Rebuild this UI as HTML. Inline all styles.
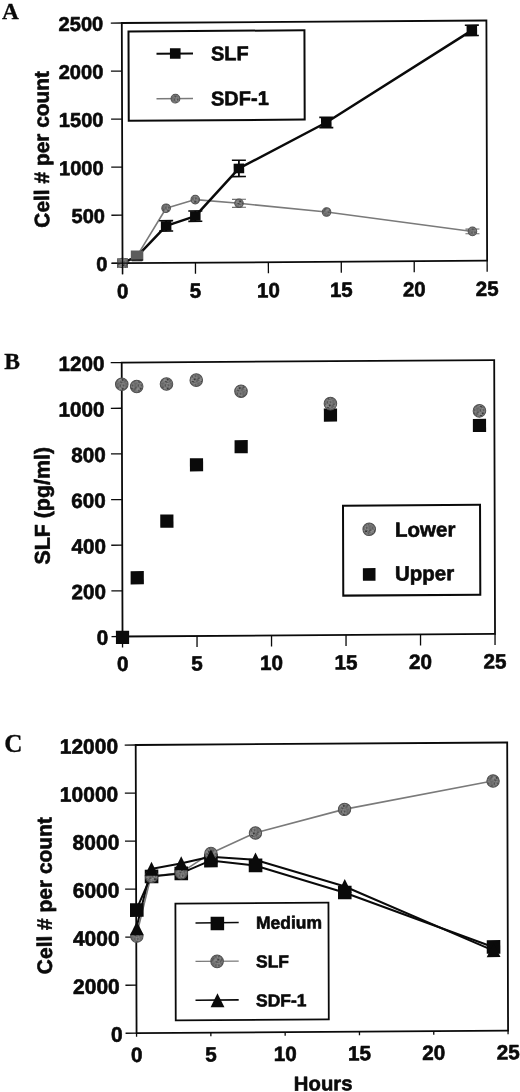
<!DOCTYPE html>
<html lang="en"><head><meta charset="utf-8"><title>Figure</title>
<style>html,body{margin:0;padding:0;background:#fff}body{width:520px;height:1092px;overflow:hidden}svg{display:block;filter:blur(0.4px)}</style>
</head><body>
<svg width="520" height="1092" viewBox="0 0 520 1092">
<rect width="520" height="1092" fill="#ffffff"/>
<defs><pattern id="ht" width="9" height="9" patternUnits="userSpaceOnUse"><rect width="9" height="9" fill="#707070"/><rect x="0" y="0" width="1.05" height="1.05" fill="#696969"/><rect x="1" y="0" width="1.05" height="1.05" fill="#838383"/><rect x="2" y="0" width="1.05" height="1.05" fill="#6a6a6a"/><rect x="3" y="0" width="1.05" height="1.05" fill="#676767"/><rect x="4" y="0" width="1.05" height="1.05" fill="#525252"/><rect x="5" y="0" width="1.05" height="1.05" fill="#6a6a6a"/><rect x="6" y="0" width="1.05" height="1.05" fill="#979797"/><rect x="7" y="0" width="1.05" height="1.05" fill="#808080"/><rect x="8" y="0" width="1.05" height="1.05" fill="#959595"/><rect x="0" y="1" width="1.05" height="1.05" fill="#7a7a7a"/><rect x="1" y="1" width="1.05" height="1.05" fill="#7f7f7f"/><rect x="2" y="1" width="1.05" height="1.05" fill="#787878"/><rect x="3" y="1" width="1.05" height="1.05" fill="#393939"/><rect x="4" y="1" width="1.05" height="1.05" fill="#8f8f8f"/><rect x="5" y="1" width="1.05" height="1.05" fill="#838383"/><rect x="6" y="1" width="1.05" height="1.05" fill="#828282"/><rect x="7" y="1" width="1.05" height="1.05" fill="#383838"/><rect x="8" y="1" width="1.05" height="1.05" fill="#363636"/><rect x="0" y="2" width="1.05" height="1.05" fill="#535353"/><rect x="1" y="2" width="1.05" height="1.05" fill="#626262"/><rect x="2" y="2" width="1.05" height="1.05" fill="#7c7c7c"/><rect x="3" y="2" width="1.05" height="1.05" fill="#707070"/><rect x="4" y="2" width="1.05" height="1.05" fill="#838383"/><rect x="5" y="2" width="1.05" height="1.05" fill="#5c5c5c"/><rect x="6" y="2" width="1.05" height="1.05" fill="#7c7c7c"/><rect x="7" y="2" width="1.05" height="1.05" fill="#7f7f7f"/><rect x="8" y="2" width="1.05" height="1.05" fill="#5b5b5b"/><rect x="0" y="3" width="1.05" height="1.05" fill="#acacac"/><rect x="1" y="3" width="1.05" height="1.05" fill="#848484"/><rect x="2" y="3" width="1.05" height="1.05" fill="#9a9a9a"/><rect x="3" y="3" width="1.05" height="1.05" fill="#5c5c5c"/><rect x="4" y="3" width="1.05" height="1.05" fill="#585858"/><rect x="5" y="3" width="1.05" height="1.05" fill="#666666"/><rect x="6" y="3" width="1.05" height="1.05" fill="#6e6e6e"/><rect x="7" y="3" width="1.05" height="1.05" fill="#878787"/><rect x="8" y="3" width="1.05" height="1.05" fill="#7a7a7a"/><rect x="0" y="4" width="1.05" height="1.05" fill="#626262"/><rect x="1" y="4" width="1.05" height="1.05" fill="#515151"/><rect x="2" y="4" width="1.05" height="1.05" fill="#606060"/><rect x="3" y="4" width="1.05" height="1.05" fill="#9b9b9b"/><rect x="4" y="4" width="1.05" height="1.05" fill="#565656"/><rect x="5" y="4" width="1.05" height="1.05" fill="#7a7a7a"/><rect x="6" y="4" width="1.05" height="1.05" fill="#808080"/><rect x="7" y="4" width="1.05" height="1.05" fill="#3f3f3f"/><rect x="8" y="4" width="1.05" height="1.05" fill="#737373"/><rect x="0" y="5" width="1.05" height="1.05" fill="#9e9e9e"/><rect x="1" y="5" width="1.05" height="1.05" fill="#2d2d2d"/><rect x="2" y="5" width="1.05" height="1.05" fill="#676767"/><rect x="3" y="5" width="1.05" height="1.05" fill="#6e6e6e"/><rect x="4" y="5" width="1.05" height="1.05" fill="#565656"/><rect x="5" y="5" width="1.05" height="1.05" fill="#828282"/><rect x="6" y="5" width="1.05" height="1.05" fill="#6f6f6f"/><rect x="7" y="5" width="1.05" height="1.05" fill="#404040"/><rect x="8" y="5" width="1.05" height="1.05" fill="#8e8e8e"/><rect x="0" y="6" width="1.05" height="1.05" fill="#888888"/><rect x="1" y="6" width="1.05" height="1.05" fill="#929292"/><rect x="2" y="6" width="1.05" height="1.05" fill="#a2a2a2"/><rect x="3" y="6" width="1.05" height="1.05" fill="#7e7e7e"/><rect x="4" y="6" width="1.05" height="1.05" fill="#767676"/><rect x="5" y="6" width="1.05" height="1.05" fill="#454545"/><rect x="6" y="6" width="1.05" height="1.05" fill="#868686"/><rect x="7" y="6" width="1.05" height="1.05" fill="#5d5d5d"/><rect x="8" y="6" width="1.05" height="1.05" fill="#626262"/><rect x="0" y="7" width="1.05" height="1.05" fill="#464646"/><rect x="1" y="7" width="1.05" height="1.05" fill="#515151"/><rect x="2" y="7" width="1.05" height="1.05" fill="#5f5f5f"/><rect x="3" y="7" width="1.05" height="1.05" fill="#9d9d9d"/><rect x="4" y="7" width="1.05" height="1.05" fill="#2d2d2d"/><rect x="5" y="7" width="1.05" height="1.05" fill="#404040"/><rect x="6" y="7" width="1.05" height="1.05" fill="#7a7a7a"/><rect x="7" y="7" width="1.05" height="1.05" fill="#a3a3a3"/><rect x="8" y="7" width="1.05" height="1.05" fill="#858585"/><rect x="0" y="8" width="1.05" height="1.05" fill="#313131"/><rect x="1" y="8" width="1.05" height="1.05" fill="#2d2d2d"/><rect x="2" y="8" width="1.05" height="1.05" fill="#7e7e7e"/><rect x="3" y="8" width="1.05" height="1.05" fill="#585858"/><rect x="4" y="8" width="1.05" height="1.05" fill="#4b4b4b"/><rect x="5" y="8" width="1.05" height="1.05" fill="#939393"/><rect x="6" y="8" width="1.05" height="1.05" fill="#979797"/><rect x="7" y="8" width="1.05" height="1.05" fill="#777777"/><rect x="8" y="8" width="1.05" height="1.05" fill="#7a7a7a"/></pattern></defs>
<text x="2.00" y="19.30" font-family='"Liberation Serif", serif' font-size="23.3" font-weight="bold" text-anchor="start" fill="#0a0a0a" stroke="#0a0a0a" stroke-width="0.3" >A</text>
<text x="4.20" y="368.80" font-family='"Liberation Serif", serif' font-size="23.6" font-weight="bold" text-anchor="start" fill="#0a0a0a" stroke="#0a0a0a" stroke-width="0.3" >B</text>
<text x="4.30" y="752.40" font-family='"Liberation Serif", serif' font-size="25.2" font-weight="bold" text-anchor="start" fill="#0a0a0a" stroke="#0a0a0a" stroke-width="0.3" >C</text>
<g transform="matrix(1 -0.0068 0.003 1 121.8 23.0)">
<rect x="0.00" y="0.00" width="364.60" height="240.20" fill="none" stroke="#0a0a0a" stroke-width="1.8"/>
<line x1="-11.00" y1="240.20" x2="0.00" y2="240.20" stroke="#0a0a0a" stroke-width="1.3" />
<text x="-15.00" y="247.80" font-family='"Liberation Sans", sans-serif' font-size="20.1" font-weight="bold" text-anchor="end" fill="#0a0a0a" stroke="#0a0a0a" stroke-width="0.6" stroke-linejoin="round" >0</text>
<line x1="-11.00" y1="192.16" x2="0.00" y2="192.16" stroke="#0a0a0a" stroke-width="1.3" />
<text x="-17.40" y="199.76" font-family='"Liberation Sans", sans-serif' font-size="20.1" font-weight="bold" text-anchor="end" fill="#0a0a0a" stroke="#0a0a0a" stroke-width="0.6" stroke-linejoin="round" >500</text>
<line x1="-11.00" y1="144.12" x2="0.00" y2="144.12" stroke="#0a0a0a" stroke-width="1.3" />
<text x="-18.60" y="151.72" font-family='"Liberation Sans", sans-serif' font-size="20.1" font-weight="bold" text-anchor="end" fill="#0a0a0a" stroke="#0a0a0a" stroke-width="0.6" stroke-linejoin="round" >1000</text>
<line x1="-11.00" y1="96.08" x2="0.00" y2="96.08" stroke="#0a0a0a" stroke-width="1.3" />
<text x="-18.60" y="103.68" font-family='"Liberation Sans", sans-serif' font-size="20.1" font-weight="bold" text-anchor="end" fill="#0a0a0a" stroke="#0a0a0a" stroke-width="0.6" stroke-linejoin="round" >1500</text>
<line x1="-11.00" y1="48.04" x2="0.00" y2="48.04" stroke="#0a0a0a" stroke-width="1.3" />
<text x="-18.60" y="55.64" font-family='"Liberation Sans", sans-serif' font-size="20.1" font-weight="bold" text-anchor="end" fill="#0a0a0a" stroke="#0a0a0a" stroke-width="0.6" stroke-linejoin="round" >2000</text>
<line x1="-11.00" y1="0.00" x2="0.00" y2="0.00" stroke="#0a0a0a" stroke-width="1.3" />
<text x="-18.60" y="7.60" font-family='"Liberation Sans", sans-serif' font-size="20.1" font-weight="bold" text-anchor="end" fill="#0a0a0a" stroke="#0a0a0a" stroke-width="0.6" stroke-linejoin="round" >2500</text>
<line x1="0.00" y1="240.20" x2="0.00" y2="251.20" stroke="#0a0a0a" stroke-width="1.3" />
<text x="0.00" y="275.30" font-family='"Liberation Sans", sans-serif' font-size="20.5" font-weight="bold" text-anchor="middle" fill="#0a0a0a" stroke="#0a0a0a" stroke-width="0.6" stroke-linejoin="round" >0</text>
<line x1="72.92" y1="240.20" x2="72.92" y2="251.20" stroke="#0a0a0a" stroke-width="1.3" />
<text x="72.92" y="275.30" font-family='"Liberation Sans", sans-serif' font-size="20.5" font-weight="bold" text-anchor="middle" fill="#0a0a0a" stroke="#0a0a0a" stroke-width="0.6" stroke-linejoin="round" >5</text>
<line x1="145.84" y1="240.20" x2="145.84" y2="251.20" stroke="#0a0a0a" stroke-width="1.3" />
<text x="145.84" y="275.30" font-family='"Liberation Sans", sans-serif' font-size="20.5" font-weight="bold" text-anchor="middle" fill="#0a0a0a" stroke="#0a0a0a" stroke-width="0.6" stroke-linejoin="round" >10</text>
<line x1="218.76" y1="240.20" x2="218.76" y2="251.20" stroke="#0a0a0a" stroke-width="1.3" />
<text x="218.76" y="275.30" font-family='"Liberation Sans", sans-serif' font-size="20.5" font-weight="bold" text-anchor="middle" fill="#0a0a0a" stroke="#0a0a0a" stroke-width="0.6" stroke-linejoin="round" >15</text>
<line x1="291.68" y1="240.20" x2="291.68" y2="251.20" stroke="#0a0a0a" stroke-width="1.3" />
<text x="291.68" y="275.30" font-family='"Liberation Sans", sans-serif' font-size="20.5" font-weight="bold" text-anchor="middle" fill="#0a0a0a" stroke="#0a0a0a" stroke-width="0.6" stroke-linejoin="round" >20</text>
<line x1="364.60" y1="240.20" x2="364.60" y2="251.20" stroke="#0a0a0a" stroke-width="1.3" />
<text x="364.60" y="275.30" font-family='"Liberation Sans", sans-serif' font-size="20.5" font-weight="bold" text-anchor="middle" fill="#0a0a0a" stroke="#0a0a0a" stroke-width="0.6" stroke-linejoin="round" >25</text>
<text transform="translate(-73.28 125.80) rotate(-90)" font-family='"Liberation Sans", sans-serif' font-size="20.9" font-weight="bold" text-anchor="middle" fill="#0a0a0a" stroke="#0a0a0a" stroke-width="0.6" stroke-linejoin="round">Cell # per count</text>
<rect x="6.67" y="8.55" width="175.94" height="89.30" fill="#fff" stroke="#0a0a0a" stroke-width="2"/>
<polyline points="0.00,240.20 14.58,232.99 43.75,185.53 72.92,177.08 116.67,181.11 204.18,190.43 350.02,210.80" fill="none" stroke="#7a7a7a" stroke-width="1.6" stroke-linejoin="round"/>
<polyline points="0.00,240.20 14.58,233.47 43.75,203.21 72.92,193.60 116.67,146.23 204.18,100.88 350.02,9.80" fill="none" stroke="#0a0a0a" stroke-width="2.5" stroke-linejoin="round"/>
<rect x="-5.25" y="235.40" width="10.50" height="9.60" fill="#0a0a0a"/>
<rect x="9.33" y="228.67" width="10.50" height="9.60" fill="#0a0a0a"/>
<line x1="43.75" y1="198.01" x2="43.75" y2="208.41" stroke="#0a0a0a" stroke-width="1.8" />
<line x1="36.75" y1="198.01" x2="50.75" y2="198.01" stroke="#0a0a0a" stroke-width="1.6" />
<line x1="36.75" y1="208.41" x2="50.75" y2="208.41" stroke="#0a0a0a" stroke-width="1.6" />
<rect x="38.50" y="198.41" width="10.50" height="9.60" fill="#0a0a0a"/>
<line x1="72.92" y1="188.40" x2="72.92" y2="198.80" stroke="#0a0a0a" stroke-width="1.8" />
<line x1="65.92" y1="188.40" x2="79.92" y2="188.40" stroke="#0a0a0a" stroke-width="1.6" />
<line x1="65.92" y1="198.80" x2="79.92" y2="198.80" stroke="#0a0a0a" stroke-width="1.6" />
<rect x="67.67" y="188.80" width="10.50" height="9.60" fill="#0a0a0a"/>
<line x1="116.67" y1="138.07" x2="116.67" y2="154.40" stroke="#0a0a0a" stroke-width="1.8" />
<line x1="109.67" y1="138.07" x2="123.67" y2="138.07" stroke="#0a0a0a" stroke-width="1.6" />
<line x1="109.67" y1="154.40" x2="123.67" y2="154.40" stroke="#0a0a0a" stroke-width="1.6" />
<rect x="111.42" y="141.43" width="10.50" height="9.60" fill="#0a0a0a"/>
<line x1="204.18" y1="95.68" x2="204.18" y2="106.08" stroke="#0a0a0a" stroke-width="1.8" />
<line x1="197.18" y1="95.68" x2="211.18" y2="95.68" stroke="#0a0a0a" stroke-width="1.6" />
<line x1="197.18" y1="106.08" x2="211.18" y2="106.08" stroke="#0a0a0a" stroke-width="1.6" />
<rect x="198.93" y="96.08" width="10.50" height="9.60" fill="#0a0a0a"/>
<line x1="350.02" y1="4.60" x2="350.02" y2="15.00" stroke="#0a0a0a" stroke-width="1.8" />
<line x1="343.02" y1="4.60" x2="357.02" y2="4.60" stroke="#0a0a0a" stroke-width="1.6" />
<line x1="343.02" y1="15.00" x2="357.02" y2="15.00" stroke="#0a0a0a" stroke-width="1.6" />
<rect x="344.77" y="5.00" width="10.50" height="9.60" fill="#0a0a0a"/>
<circle cx="0.00" cy="240.20" r="4.30" fill="url(#ht)" stroke="#505050" stroke-width="1.0"/>
<circle cx="14.58" cy="232.99" r="4.30" fill="url(#ht)" stroke="#505050" stroke-width="1.0"/>
<circle cx="43.75" cy="185.53" r="4.30" fill="url(#ht)" stroke="#505050" stroke-width="1.0"/>
<circle cx="72.92" cy="177.08" r="4.30" fill="url(#ht)" stroke="#505050" stroke-width="1.0"/>
<line x1="116.67" y1="177.08" x2="116.67" y2="185.15" stroke="#6c6c6c" stroke-width="1.2" />
<line x1="109.67" y1="177.08" x2="123.67" y2="177.08" stroke="#6c6c6c" stroke-width="1.1" />
<line x1="109.67" y1="185.15" x2="123.67" y2="185.15" stroke="#6c6c6c" stroke-width="1.1" />
<circle cx="116.67" cy="181.11" r="4.30" fill="url(#ht)" stroke="#505050" stroke-width="1.0"/>
<circle cx="204.18" cy="190.43" r="4.30" fill="url(#ht)" stroke="#505050" stroke-width="1.0"/>
<line x1="350.02" y1="208.49" x2="350.02" y2="213.11" stroke="#6c6c6c" stroke-width="1.2" />
<line x1="343.02" y1="208.49" x2="357.02" y2="208.49" stroke="#6c6c6c" stroke-width="1.1" />
<line x1="343.02" y1="213.11" x2="357.02" y2="213.11" stroke="#6c6c6c" stroke-width="1.1" />
<circle cx="350.02" cy="210.80" r="4.30" fill="url(#ht)" stroke="#505050" stroke-width="1.0"/>
<rect x="-5.25" y="235.40" width="10.50" height="9.60" fill="url(#ht)"/>
<line x1="0.00" y1="234.20" x2="0.00" y2="251.20" stroke="#0a0a0a" stroke-width="1.3" />
<line x1="-11.00" y1="240.20" x2="7.00" y2="240.20" stroke="#0a0a0a" stroke-width="1.2" />
<rect x="8.33" y="227.61" width="12.50" height="10.00" fill="#5c5c5c"/>
<line x1="8.58" y1="237.21" x2="20.58" y2="237.21" stroke="#222" stroke-width="1.4" />
<line x1="34.61" y1="31.04" x2="71.11" y2="31.04" stroke="#0a0a0a" stroke-width="1.9" />
<rect x="48.06" y="25.64" width="10.60" height="10.40" fill="#0a0a0a"/>
<text x="89.09" y="38.01" font-family='"Liberation Sans", sans-serif' font-size="20" font-weight="bold" text-anchor="start" fill="#0a0a0a" stroke="#0a0a0a" stroke-width="0.6" stroke-linejoin="round" >SLF</text>
<line x1="34.47" y1="76.04" x2="70.97" y2="76.04" stroke="#7a7a7a" stroke-width="1.4" />
<circle cx="53.42" cy="76.04" r="4.40" fill="url(#ht)" stroke="#505050" stroke-width="1.0"/>
<text x="88.95" y="83.01" font-family='"Liberation Sans", sans-serif' font-size="20" font-weight="bold" text-anchor="start" fill="#0a0a0a" stroke="#0a0a0a" stroke-width="0.6" stroke-linejoin="round" >SDF-1</text>
</g>
<g transform="matrix(1 -0.0068 0.003 1 121.7 362.6)">
<rect x="0.00" y="0.00" width="372.50" height="273.90" fill="none" stroke="#0a0a0a" stroke-width="1.8"/>
<line x1="-11.00" y1="273.90" x2="0.00" y2="273.90" stroke="#0a0a0a" stroke-width="1.3" />
<text x="-14.30" y="281.91" font-family='"Liberation Sans", sans-serif' font-size="20.7" font-weight="bold" text-anchor="end" fill="#0a0a0a" stroke="#0a0a0a" stroke-width="0.6" stroke-linejoin="round" >0</text>
<line x1="-11.00" y1="228.25" x2="0.00" y2="228.25" stroke="#0a0a0a" stroke-width="1.3" />
<text x="-16.30" y="236.26" font-family='"Liberation Sans", sans-serif' font-size="20.7" font-weight="bold" text-anchor="end" fill="#0a0a0a" stroke="#0a0a0a" stroke-width="0.6" stroke-linejoin="round" >200</text>
<line x1="-11.00" y1="182.60" x2="0.00" y2="182.60" stroke="#0a0a0a" stroke-width="1.3" />
<text x="-16.30" y="190.61" font-family='"Liberation Sans", sans-serif' font-size="20.7" font-weight="bold" text-anchor="end" fill="#0a0a0a" stroke="#0a0a0a" stroke-width="0.6" stroke-linejoin="round" >400</text>
<line x1="-11.00" y1="136.95" x2="0.00" y2="136.95" stroke="#0a0a0a" stroke-width="1.3" />
<text x="-16.30" y="144.96" font-family='"Liberation Sans", sans-serif' font-size="20.7" font-weight="bold" text-anchor="end" fill="#0a0a0a" stroke="#0a0a0a" stroke-width="0.6" stroke-linejoin="round" >600</text>
<line x1="-11.00" y1="91.30" x2="0.00" y2="91.30" stroke="#0a0a0a" stroke-width="1.3" />
<text x="-16.30" y="99.31" font-family='"Liberation Sans", sans-serif' font-size="20.7" font-weight="bold" text-anchor="end" fill="#0a0a0a" stroke="#0a0a0a" stroke-width="0.6" stroke-linejoin="round" >800</text>
<line x1="-11.00" y1="45.65" x2="0.00" y2="45.65" stroke="#0a0a0a" stroke-width="1.3" />
<text x="-17.30" y="53.66" font-family='"Liberation Sans", sans-serif' font-size="20.7" font-weight="bold" text-anchor="end" fill="#0a0a0a" stroke="#0a0a0a" stroke-width="0.6" stroke-linejoin="round" >1000</text>
<line x1="-11.00" y1="0.00" x2="0.00" y2="0.00" stroke="#0a0a0a" stroke-width="1.3" />
<text x="-17.30" y="8.01" font-family='"Liberation Sans", sans-serif' font-size="20.7" font-weight="bold" text-anchor="end" fill="#0a0a0a" stroke="#0a0a0a" stroke-width="0.6" stroke-linejoin="round" >1200</text>
<line x1="0.00" y1="273.90" x2="0.00" y2="284.90" stroke="#0a0a0a" stroke-width="1.3" />
<text x="0.00" y="308.40" font-family='"Liberation Sans", sans-serif' font-size="20.7" font-weight="bold" text-anchor="middle" fill="#0a0a0a" stroke="#0a0a0a" stroke-width="0.6" stroke-linejoin="round" >0</text>
<line x1="74.50" y1="273.90" x2="74.50" y2="284.90" stroke="#0a0a0a" stroke-width="1.3" />
<text x="74.50" y="308.40" font-family='"Liberation Sans", sans-serif' font-size="20.7" font-weight="bold" text-anchor="middle" fill="#0a0a0a" stroke="#0a0a0a" stroke-width="0.6" stroke-linejoin="round" >5</text>
<line x1="149.00" y1="273.90" x2="149.00" y2="284.90" stroke="#0a0a0a" stroke-width="1.3" />
<text x="149.00" y="308.40" font-family='"Liberation Sans", sans-serif' font-size="20.7" font-weight="bold" text-anchor="middle" fill="#0a0a0a" stroke="#0a0a0a" stroke-width="0.6" stroke-linejoin="round" >10</text>
<line x1="223.50" y1="273.90" x2="223.50" y2="284.90" stroke="#0a0a0a" stroke-width="1.3" />
<text x="223.50" y="308.40" font-family='"Liberation Sans", sans-serif' font-size="20.7" font-weight="bold" text-anchor="middle" fill="#0a0a0a" stroke="#0a0a0a" stroke-width="0.6" stroke-linejoin="round" >15</text>
<line x1="298.00" y1="273.90" x2="298.00" y2="284.90" stroke="#0a0a0a" stroke-width="1.3" />
<text x="298.00" y="308.40" font-family='"Liberation Sans", sans-serif' font-size="20.7" font-weight="bold" text-anchor="middle" fill="#0a0a0a" stroke="#0a0a0a" stroke-width="0.6" stroke-linejoin="round" >20</text>
<line x1="372.50" y1="273.90" x2="372.50" y2="284.90" stroke="#0a0a0a" stroke-width="1.3" />
<text x="372.50" y="308.40" font-family='"Liberation Sans", sans-serif' font-size="20.7" font-weight="bold" text-anchor="middle" fill="#0a0a0a" stroke="#0a0a0a" stroke-width="0.6" stroke-linejoin="round" >25</text>
<text transform="translate(-72.53 142.71) rotate(-90)" font-family='"Liberation Sans", sans-serif' font-size="21.4" font-weight="bold" text-anchor="middle" fill="#0a0a0a" stroke="#0a0a0a" stroke-width="0.6" stroke-linejoin="round">SLF (pg/ml)</text>
<rect x="-6.60" y="268.21" width="13.20" height="13.20" fill="#0a0a0a"/>
<rect x="8.30" y="208.64" width="13.20" height="13.20" fill="#0a0a0a"/>
<rect x="38.10" y="152.26" width="13.20" height="13.20" fill="#0a0a0a"/>
<rect x="67.90" y="96.11" width="13.20" height="13.20" fill="#0a0a0a"/>
<rect x="112.60" y="78.31" width="13.20" height="13.20" fill="#0a0a0a"/>
<rect x="202.00" y="47.27" width="13.20" height="13.20" fill="#0a0a0a"/>
<rect x="351.00" y="58.68" width="13.20" height="13.20" fill="#0a0a0a"/>
<circle cx="0.00" cy="21.68" r="6.30" fill="url(#ht)" stroke="#505050" stroke-width="1.0"/>
<circle cx="14.90" cy="23.97" r="6.30" fill="url(#ht)" stroke="#505050" stroke-width="1.0"/>
<circle cx="44.70" cy="21.68" r="6.30" fill="url(#ht)" stroke="#505050" stroke-width="1.0"/>
<circle cx="74.50" cy="18.03" r="6.30" fill="url(#ht)" stroke="#505050" stroke-width="1.0"/>
<circle cx="119.20" cy="29.44" r="6.30" fill="url(#ht)" stroke="#505050" stroke-width="1.0"/>
<circle cx="208.60" cy="42.45" r="6.30" fill="url(#ht)" stroke="#505050" stroke-width="1.0"/>
<circle cx="357.60" cy="50.67" r="6.30" fill="url(#ht)" stroke="#505050" stroke-width="1.0"/>
<rect x="220.87" y="144.70" width="137.03" height="89.83" fill="#fff" stroke="#0a0a0a" stroke-width="2"/>
<circle cx="247.00" cy="168.38" r="6.30" fill="url(#ht)" stroke="#505050" stroke-width="1.0"/>
<rect x="240.56" y="207.18" width="12.60" height="12.60" fill="#0a0a0a"/>
<text x="272.78" y="176.06" font-family='"Liberation Sans", sans-serif' font-size="20.5" font-weight="bold" text-anchor="start" fill="#0a0a0a" stroke="#0a0a0a" stroke-width="0.6" stroke-linejoin="round" >Lower</text>
<text x="272.65" y="219.86" font-family='"Liberation Sans", sans-serif' font-size="20.5" font-weight="bold" text-anchor="start" fill="#0a0a0a" stroke="#0a0a0a" stroke-width="0.6" stroke-linejoin="round" >Upper</text>
</g>
<g transform="matrix(1 -0.0068 0.003 1 135.7 745.0)">
<rect x="0.00" y="0.00" width="371.50" height="288.20" fill="none" stroke="#0a0a0a" stroke-width="1.8"/>
<line x1="-11.00" y1="288.20" x2="0.00" y2="288.20" stroke="#0a0a0a" stroke-width="1.3" />
<text x="-14.00" y="296.52" font-family='"Liberation Sans", sans-serif' font-size="21" font-weight="bold" text-anchor="end" fill="#0a0a0a" stroke="#0a0a0a" stroke-width="0.6" stroke-linejoin="round" >0</text>
<line x1="-11.00" y1="240.17" x2="0.00" y2="240.17" stroke="#0a0a0a" stroke-width="1.3" />
<text x="-16.70" y="248.48" font-family='"Liberation Sans", sans-serif' font-size="21" font-weight="bold" text-anchor="end" fill="#0a0a0a" stroke="#0a0a0a" stroke-width="0.6" stroke-linejoin="round" >2000</text>
<line x1="-11.00" y1="192.13" x2="0.00" y2="192.13" stroke="#0a0a0a" stroke-width="1.3" />
<text x="-16.70" y="200.45" font-family='"Liberation Sans", sans-serif' font-size="21" font-weight="bold" text-anchor="end" fill="#0a0a0a" stroke="#0a0a0a" stroke-width="0.6" stroke-linejoin="round" >4000</text>
<line x1="-11.00" y1="144.10" x2="0.00" y2="144.10" stroke="#0a0a0a" stroke-width="1.3" />
<text x="-16.70" y="152.42" font-family='"Liberation Sans", sans-serif' font-size="21" font-weight="bold" text-anchor="end" fill="#0a0a0a" stroke="#0a0a0a" stroke-width="0.6" stroke-linejoin="round" >6000</text>
<line x1="-11.00" y1="96.07" x2="0.00" y2="96.07" stroke="#0a0a0a" stroke-width="1.3" />
<text x="-16.70" y="104.38" font-family='"Liberation Sans", sans-serif' font-size="21" font-weight="bold" text-anchor="end" fill="#0a0a0a" stroke="#0a0a0a" stroke-width="0.6" stroke-linejoin="round" >8000</text>
<line x1="-11.00" y1="48.03" x2="0.00" y2="48.03" stroke="#0a0a0a" stroke-width="1.3" />
<text x="-17.60" y="56.35" font-family='"Liberation Sans", sans-serif' font-size="21" font-weight="bold" text-anchor="end" fill="#0a0a0a" stroke="#0a0a0a" stroke-width="0.6" stroke-linejoin="round" >10000</text>
<line x1="-11.00" y1="0.00" x2="0.00" y2="0.00" stroke="#0a0a0a" stroke-width="1.3" />
<text x="-17.60" y="8.32" font-family='"Liberation Sans", sans-serif' font-size="21" font-weight="bold" text-anchor="end" fill="#0a0a0a" stroke="#0a0a0a" stroke-width="0.6" stroke-linejoin="round" >12000</text>
<line x1="0.00" y1="288.20" x2="0.00" y2="291.70" stroke="#0a0a0a" stroke-width="1.3" />
<text x="0.00" y="316.90" font-family='"Liberation Sans", sans-serif' font-size="20.7" font-weight="bold" text-anchor="middle" fill="#0a0a0a" stroke="#0a0a0a" stroke-width="0.6" stroke-linejoin="round" >0</text>
<line x1="74.30" y1="288.20" x2="74.30" y2="291.70" stroke="#0a0a0a" stroke-width="1.3" />
<text x="74.30" y="316.90" font-family='"Liberation Sans", sans-serif' font-size="20.7" font-weight="bold" text-anchor="middle" fill="#0a0a0a" stroke="#0a0a0a" stroke-width="0.6" stroke-linejoin="round" >5</text>
<line x1="148.60" y1="288.20" x2="148.60" y2="291.70" stroke="#0a0a0a" stroke-width="1.3" />
<text x="148.60" y="316.90" font-family='"Liberation Sans", sans-serif' font-size="20.7" font-weight="bold" text-anchor="middle" fill="#0a0a0a" stroke="#0a0a0a" stroke-width="0.6" stroke-linejoin="round" >10</text>
<line x1="222.90" y1="288.20" x2="222.90" y2="291.70" stroke="#0a0a0a" stroke-width="1.3" />
<text x="222.90" y="316.90" font-family='"Liberation Sans", sans-serif' font-size="20.7" font-weight="bold" text-anchor="middle" fill="#0a0a0a" stroke="#0a0a0a" stroke-width="0.6" stroke-linejoin="round" >15</text>
<line x1="297.20" y1="288.20" x2="297.20" y2="291.70" stroke="#0a0a0a" stroke-width="1.3" />
<text x="297.20" y="316.90" font-family='"Liberation Sans", sans-serif' font-size="20.7" font-weight="bold" text-anchor="middle" fill="#0a0a0a" stroke="#0a0a0a" stroke-width="0.6" stroke-linejoin="round" >20</text>
<line x1="371.50" y1="288.20" x2="371.50" y2="291.70" stroke="#0a0a0a" stroke-width="1.3" />
<text x="371.50" y="316.90" font-family='"Liberation Sans", sans-serif' font-size="20.7" font-weight="bold" text-anchor="middle" fill="#0a0a0a" stroke="#0a0a0a" stroke-width="0.6" stroke-linejoin="round" >25</text>
<text transform="translate(-84.45 150.03) rotate(-90)" font-family='"Liberation Sans", sans-serif' font-size="20.95" font-weight="bold" text-anchor="middle" fill="#0a0a0a" stroke="#0a0a0a" stroke-width="0.6" stroke-linejoin="round">Cell # per count</text>
<text x="186.46" y="346.77" font-family='"Liberation Sans", sans-serif' font-size="20.3" font-weight="bold" text-anchor="middle" fill="#0a0a0a" stroke="#0a0a0a" stroke-width="0.6" stroke-linejoin="round" >Hours</text>
<polyline points="0.00,191.17 14.86,131.49 44.58,128.13 74.30,108.92 118.88,88.86 208.04,65.81 356.64,38.43" fill="none" stroke="#7a7a7a" stroke-width="1.6" stroke-linejoin="round"/>
<polyline points="0.00,165.11 14.86,131.49 44.58,128.73 74.30,116.12 118.88,121.28 208.04,148.90 356.64,204.38" fill="none" stroke="#0a0a0a" stroke-width="2.0" stroke-linejoin="round"/>
<polyline points="0.00,183.49 14.86,124.17 44.58,118.88 74.30,112.16 118.88,115.52 208.04,142.66 356.64,207.86" fill="none" stroke="#0a0a0a" stroke-width="2.0" stroke-linejoin="round"/>
<rect x="-6.20" y="158.31" width="13.60" height="13.60" fill="#0a0a0a"/>
<rect x="8.66" y="124.69" width="13.60" height="13.60" fill="#0a0a0a"/>
<rect x="38.38" y="121.93" width="13.60" height="13.60" fill="#0a0a0a"/>
<rect x="68.10" y="109.32" width="13.60" height="13.60" fill="#0a0a0a"/>
<rect x="112.68" y="114.48" width="13.60" height="13.60" fill="#0a0a0a"/>
<rect x="201.84" y="142.10" width="13.60" height="13.60" fill="#0a0a0a"/>
<rect x="350.44" y="197.58" width="13.60" height="13.60" fill="#0a0a0a"/>
<circle cx="0.60" cy="191.17" r="6.20" fill="url(#ht)" stroke="#505050" stroke-width="1.0"/>
<circle cx="15.46" cy="131.49" r="6.20" fill="url(#ht)" stroke="#505050" stroke-width="1.0"/>
<circle cx="45.18" cy="128.13" r="6.20" fill="url(#ht)" stroke="#505050" stroke-width="1.0"/>
<circle cx="74.90" cy="108.92" r="6.20" fill="url(#ht)" stroke="#505050" stroke-width="1.0"/>
<circle cx="119.48" cy="88.86" r="6.20" fill="url(#ht)" stroke="#505050" stroke-width="1.0"/>
<circle cx="208.64" cy="65.81" r="6.20" fill="url(#ht)" stroke="#505050" stroke-width="1.0"/>
<circle cx="357.24" cy="38.43" r="6.20" fill="url(#ht)" stroke="#505050" stroke-width="1.0"/>
<polygon points="0.60,176.21 -6.30,190.21 7.50,190.21" fill="#0a0a0a"/>
<polygon points="15.46,116.89 8.56,130.89 22.36,130.89" fill="#0a0a0a"/>
<polygon points="45.18,111.60 38.28,125.60 52.08,125.60" fill="#0a0a0a"/>
<polygon points="74.90,104.88 68.00,118.88 81.80,118.88" fill="#0a0a0a"/>
<polygon points="119.48,108.24 112.58,122.24 126.38,122.24" fill="#0a0a0a"/>
<polygon points="208.64,135.38 201.74,149.38 215.54,149.38" fill="#0a0a0a"/>
<polygon points="357.24,200.58 350.34,214.58 364.14,214.58" fill="#0a0a0a"/>
<rect x="39.22" y="158.87" width="153.05" height="116.74" fill="#fff" stroke="#0a0a0a" stroke-width="1.8"/>
<line x1="59.26" y1="178.31" x2="102.46" y2="178.31" stroke="#0a0a0a" stroke-width="1.5" />
<rect x="74.41" y="172.26" width="13.50" height="13.50" fill="#0a0a0a"/>
<text x="119.75" y="184.62" font-family='"Liberation Sans", sans-serif' font-size="17.5" font-weight="bold" text-anchor="start" fill="#0a0a0a" stroke="#0a0a0a" stroke-width="0.6" stroke-linejoin="round" >Medium</text>
<line x1="59.15" y1="216.81" x2="102.35" y2="216.81" stroke="#7a7a7a" stroke-width="1.4" />
<circle cx="80.75" cy="216.91" r="6.30" fill="url(#ht)" stroke="#505050" stroke-width="1.0"/>
<text x="119.63" y="223.42" font-family='"Liberation Sans", sans-serif' font-size="17.5" font-weight="bold" text-anchor="start" fill="#0a0a0a" stroke="#0a0a0a" stroke-width="0.6" stroke-linejoin="round" >SLF</text>
<line x1="59.03" y1="255.61" x2="102.23" y2="255.61" stroke="#0a0a0a" stroke-width="1.6" />
<polygon points="81.03,248.83 74.13,262.83 87.93,262.83" fill="#0a0a0a"/>
<text x="119.52" y="262.42" font-family='"Liberation Sans", sans-serif' font-size="17.5" font-weight="bold" text-anchor="start" fill="#0a0a0a" stroke="#0a0a0a" stroke-width="0.6" stroke-linejoin="round" >SDF-1</text>
</g>
</svg></body></html>
